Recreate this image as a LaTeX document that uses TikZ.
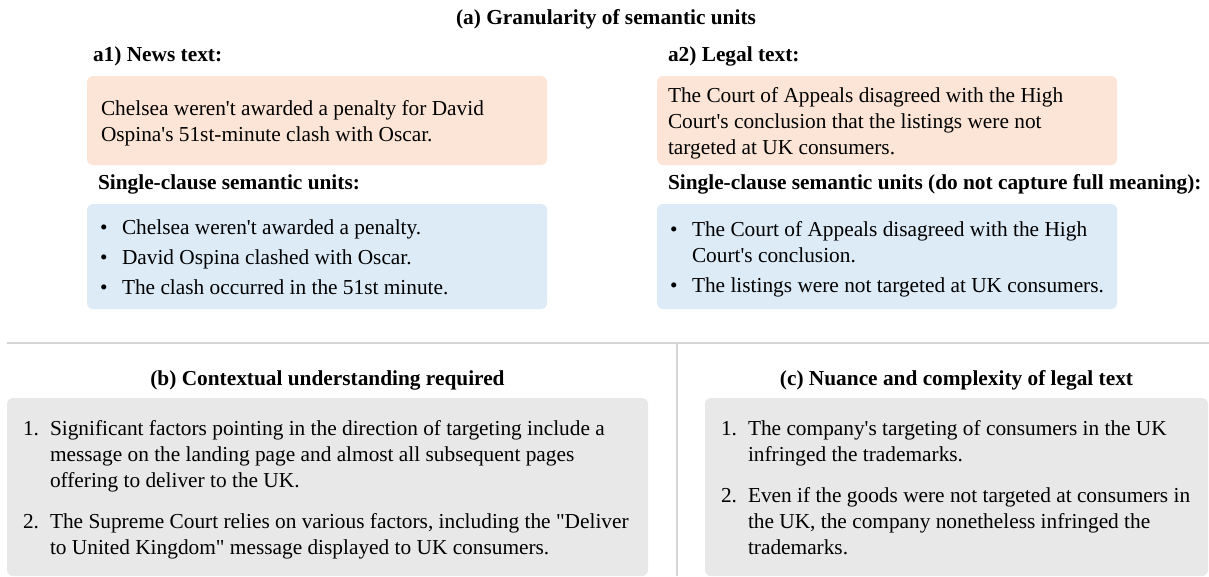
\documentclass[tikz,border=0pt]{standalone}
\usepackage{fontspec}
\setmainfont{Liberation Serif}[Ligatures=TeXOff]
\definecolor{pinkc}{HTML}{FCE4D6}
\definecolor{bluec}{HTML}{DDEBF7}
\definecolor{greyc}{HTML}{E8E8E8}
\definecolor{rulec}{HTML}{D4D4D4}
\tikzset{
  pinkbox/.style={fill=pinkc, rounded corners=4.5pt},
  bluebox/.style={fill=bluec, rounded corners=4.5pt},
  greybox/.style={fill=greyc, rounded corners=4.5pt},
  sepline/.style={draw=rulec, line width=1.5pt},
  txt/.style={anchor=base west, inner sep=0pt, outer sep=0pt, font=\fontsize{16}{19.5}\selectfont},
  hd/.style={txt, font=\fontsize{16}{19.5}\selectfont\bfseries},
  title/.style={hd, anchor=base},
}
\begin{document}
\begin{tikzpicture}[x=0.75pt, y=-0.75pt]
\useasboundingbox (0,0) rectangle (1209,576);
% title
\node[title] (ta) at (606,24) {(a) Granularity of semantic units};
% a1
\node[hd] (a1h) at (93,61) {a1) News text:};
\fill[pinkbox] (87,76) rectangle (547,165);
\node[txt] (a1p1) at (101,115) {Chelsea weren't awarded a penalty for David};
\node[txt] (a1p2) at (101,141) {Ospina's 51st-minute clash with Oscar.};
\node[hd] (a1s) at (98,189) {Single-clause semantic units:};
\fill[bluebox] (87,204) rectangle (547,309);
\node[txt] (a1b1) at (100,234) {\textbullet};
\node[txt] (a1i1) at (122,234) {Chelsea weren't awarded a penalty.};
\node[txt] (a1b2) at (100,264) {\textbullet};
\node[txt] (a1i2) at (122,264) {David Ospina clashed with Oscar.};
\node[txt] (a1b3) at (100,294) {\textbullet};
\node[txt] (a1i3) at (122,294) {The clash occurred in the 51st minute.};
% a2
\node[hd] (a2h) at (668,61) {a2) Legal text:};
\fill[pinkbox] (657,76) rectangle (1117,165);
\node[txt] (a2p1) at (668,102) {The Court of Appeals disagreed with the High};
\node[txt] (a2p2) at (668,128) {Court's conclusion that the listings were not};
\node[txt] (a2p3) at (668,154) {targeted at UK consumers.};
\node[hd] (a2s) at (668,189) {Single-clause semantic units (do not capture full meaning):};
\fill[bluebox] (657,204) rectangle (1117,309);
\node[txt] (a2b1) at (670,236) {\textbullet};
\node[txt] (a2i1) at (692,236) {The Court of Appeals disagreed with the High};
\node[txt] (a2i1b) at (692,262) {Court's conclusion.};
\node[txt] (a2b2) at (670,292) {\textbullet};
\node[txt] (a2i2) at (692,292) {The listings were not targeted at UK consumers.};
% separators
\coordinate (hl) at (7,343);
\coordinate (hr) at (1209,343);
\coordinate (vt) at (677,343);
\coordinate (vb) at (677,576);
\draw[sepline] (hl) -- (hr);
\draw[sepline] (vt) -- (vb);
% (b)
\node[title] (tb) at (327.5,385) {(b) Contextual understanding required};
\fill[greybox] (7,398) rectangle (648,576);
\node[txt] (bn1) at (23,435) {1.};
\node[txt] (b11) at (50,435) {Significant factors pointing in the direction of targeting include a};
\node[txt] (b12) at (50,461) {message on the landing page and almost all subsequent pages};
\node[txt] (b13) at (50,487) {offering to deliver to the UK.};
\node[txt] (bn2) at (23,528) {2.};
\node[txt] (b21) at (50,528) {The Supreme Court relies on various factors, including the "Deliver};
\node[txt] (b22) at (50,554) {to United Kingdom" message displayed to UK consumers.};
% (c)
\node[title] (tc) at (956.5,385) {(c) Nuance and complexity of legal text};
\fill[greybox] (705,398) rectangle (1208,576);
\node[txt] (cn1) at (721,435) {1.};
\node[txt] (c11) at (748,435) {The company's targeting of consumers in the UK};
\node[txt] (c12) at (748,461) {infringed the trademarks.};
\node[txt] (cn2) at (721,502) {2.};
\node[txt] (c21) at (748,502) {Even if the goods were not targeted at consumers in};
\node[txt] (c22) at (748,528) {the UK, the company nonetheless infringed the};
\node[txt] (c23) at (748,554) {trademarks.};
\end{tikzpicture}
\end{document}
